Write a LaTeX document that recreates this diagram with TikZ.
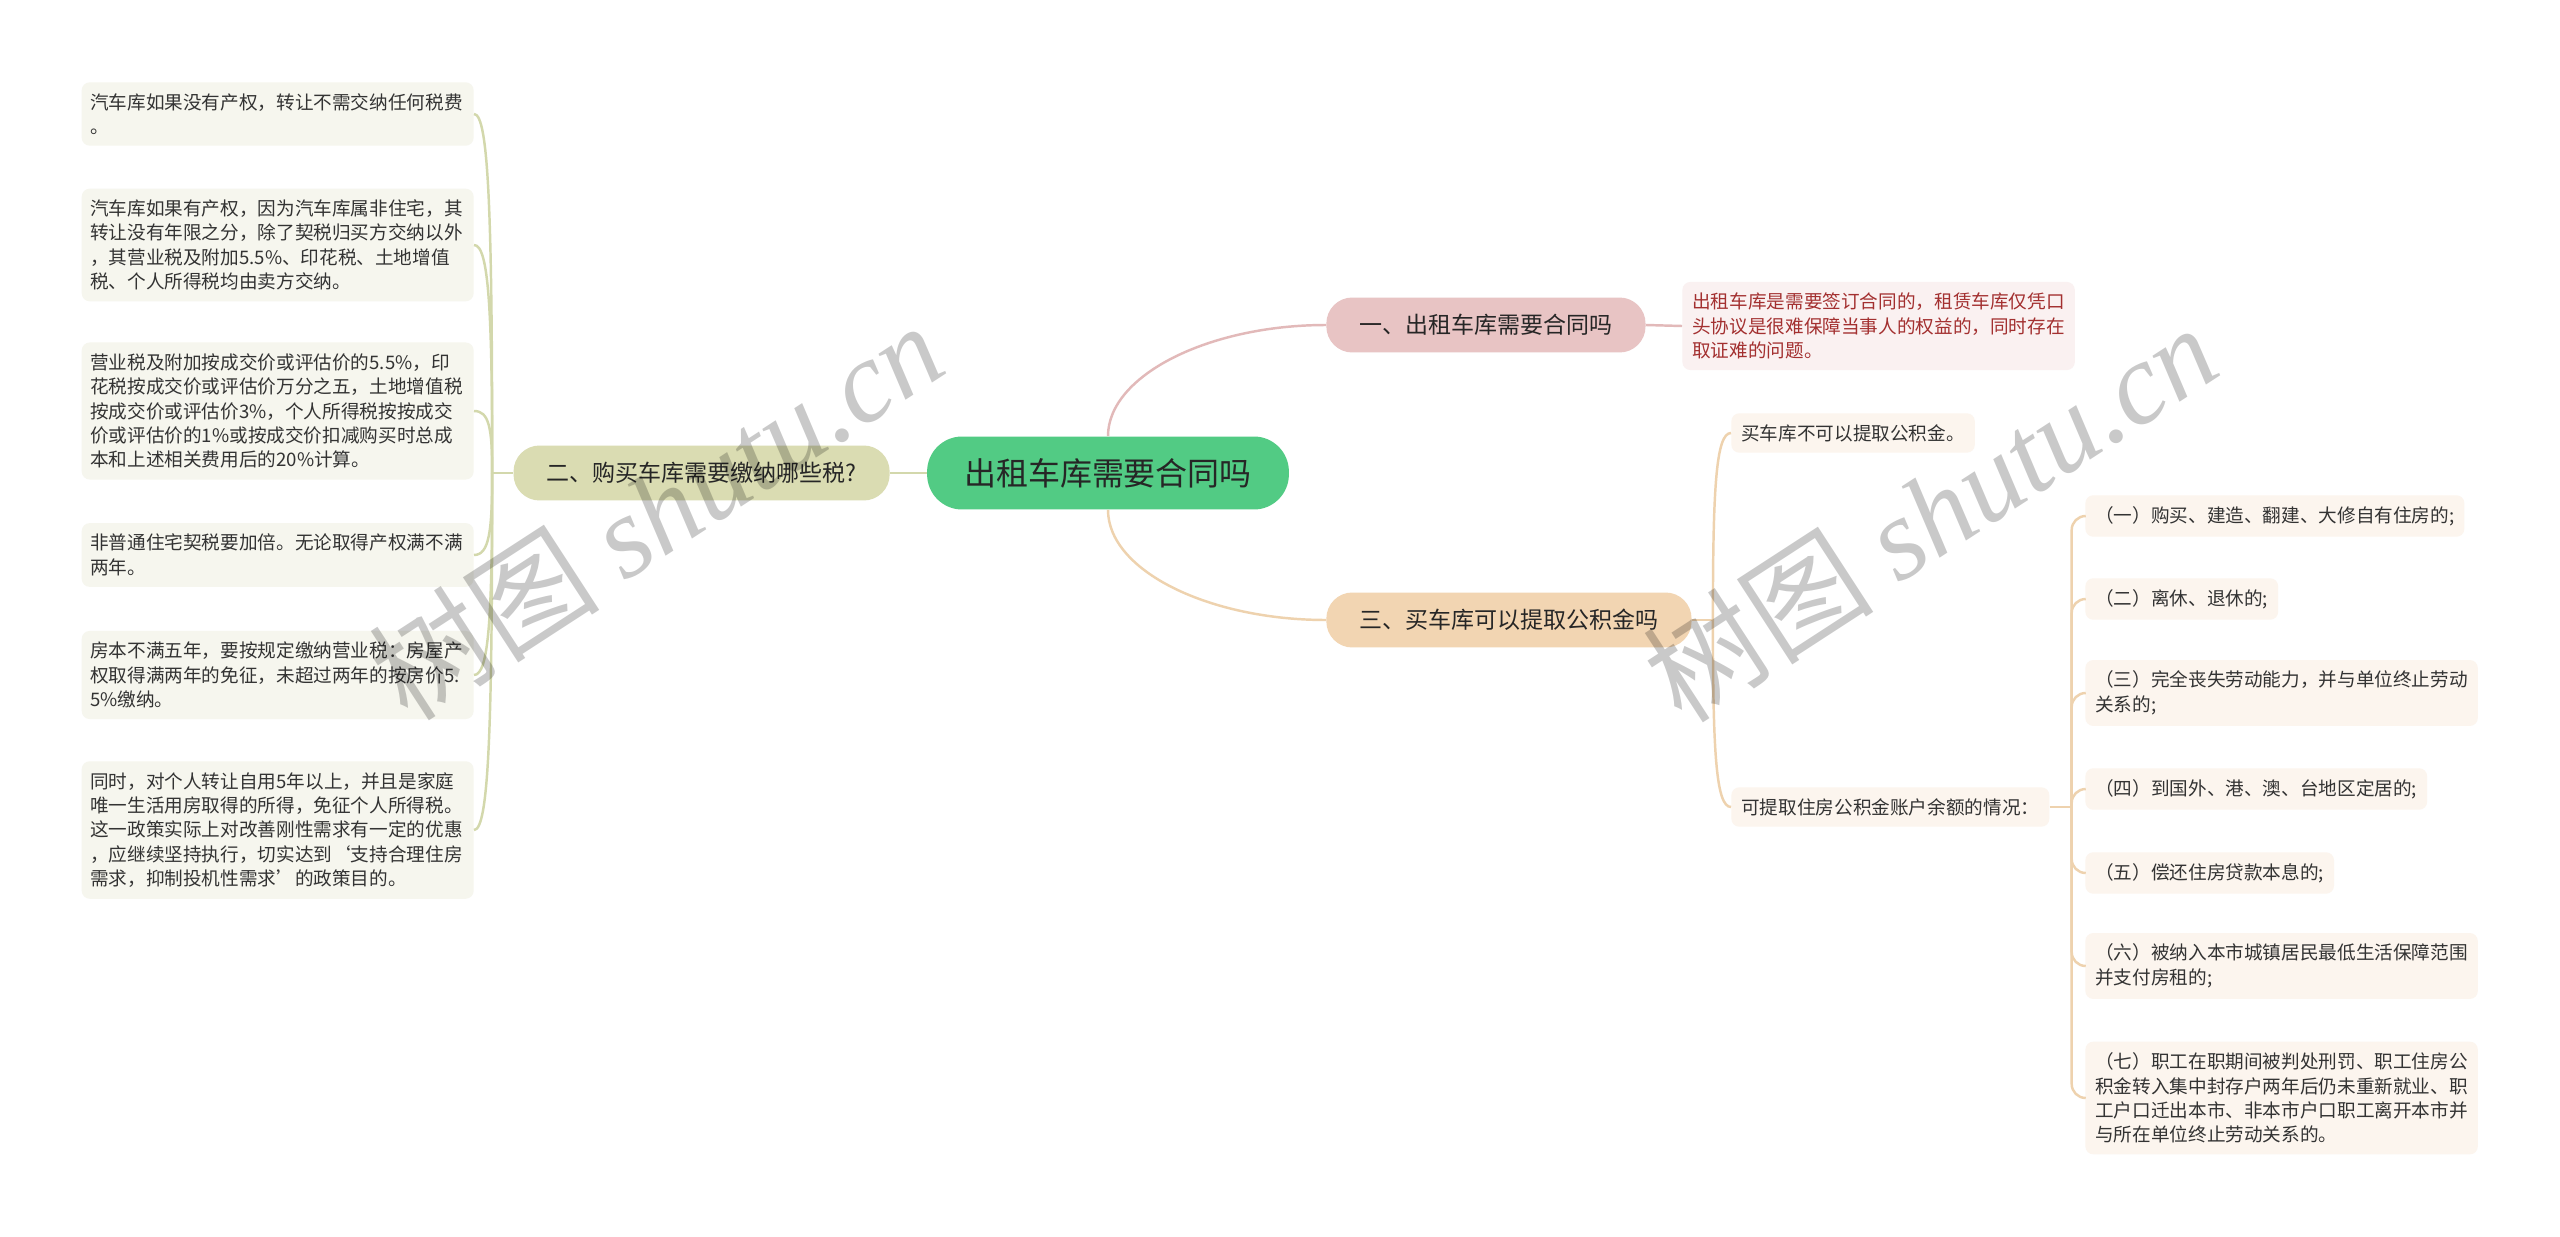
\documentclass[tikz,border=0pt]{standalone}
\usepackage{fontspec}
\setmainfont{Noto Sans CJK SC}
\newfontfamily\latinfilig{Liberation Serif}

\definecolor{couleurbackracn}{HTML}{52CB84}
\definecolor{couleurbackrose}{HTML}{E8C4C4}
\definecolor{couleurbackoliv}{HTML}{DADCB2}
\definecolor{couleurbackpech}{HTML}{F2D5B2}
\definecolor{couleurfeuiloliv}{HTML}{F6F6EE}
\definecolor{couleurfeuilrose}{HTML}{FAF1F1}
\definecolor{couleurfeuilpech}{HTML}{FCF5EE}
\definecolor{couleurlienrose}{HTML}{E2B9B9}
\definecolor{couleurlienoliv}{HTML}{D3D8AC}
\definecolor{couleurlienpech}{HTML}{EED2AE}
\definecolor{couleurtext}{HTML}{333333}
\definecolor{couleurtextrose}{HTML}{A33030}

\newcommand{\liengche}[3]{\draw[lienoliv] (#1) to[out=#3, in=0, out looseness=1.8, in distance=0.3cm] (#2.east);}
\newcommand{\liendrte}[3]{\draw[lienpech] (#1) to[out=#3, in=180, out looseness=1.8, in distance=0.3cm] (#2.west);}
\newcommand{\liencoud}[2]{\draw[lienpech, rounded corners=0.28cm] (#1) |- (#2.west);}

\tikzset{
		basic/.style={rounded corners=0.16cm, inner xsep=0.2cm, inner ysep=0.22cm, align=left, text=couleurtext, font=\fontsize{10.6}{13.9}\selectfont},
		racine/.style={basic, fill=couleurbackracn, rounded corners=0.7cm, inner xsep=0.74cm, minimum height=1.46cm, text=black!85, font=\fontsize{18.2}{22}\selectfont},
		branche/.style={basic, rounded corners=0.52cm, inner xsep=0.66cm, minimum height=1.1cm, text=black!85, font=\fontsize{13.1}{16}\selectfont},
		brarose/.style={branche, fill=couleurbackrose},
		braoliv/.style={branche, fill=couleurbackoliv},
		brapech/.style={branche, fill=couleurbackpech},
		feuiloliv/.style={basic, fill=couleurfeuiloliv, text width=7.5cm, inner xsep=0.17cm},
		feuilrose/.style={basic, fill=couleurfeuilrose, text=couleurtextrose},
		feuilpech/.style={basic, fill=couleurfeuilpech},
		lien/.style={line width=1.4pt},
		lienrose/.style={lien, draw=couleurlienrose},
		lienoliv/.style={lien, draw=couleurlienoliv},
		lienpech/.style={lien, draw=couleurlienpech},
		filigrane/.style={text=black, text opacity=0.21, inner sep=0pt, rotate=33, font=\fontsize{66}{70}\selectfont}
	}

\begin{document}
\begin{tikzpicture}[x=0.02cm, y=-0.02cm]
		\fill[white] (0,0) rectangle (2560,1237);
		\useasboundingbox (0,0) rectangle (2560,1237);
		% centre
		\node[racine] (racine) at (1108,473) {出租车库需要合同吗};
		% branches
		\node[brarose, anchor=west] (bracontr) at (1326,325) {一、出租车库需要合同吗};
		\node[braoliv, anchor=east] (bratxach) at (890,473) {二、购买车库需要缴纳哪些税?};
		\node[brapech, anchor=west] (brafonds) at (1326,620) {三、买车库可以提取公积金吗};
		% feuilles gauches
		\node[feuiloliv, anchor=east] (sansprop) at (474,114) {汽车库如果没有产权，转让不需交纳任何税费\\。};
		\node[feuiloliv, anchor=east] (avecprop) at (474,245) {汽车库如果有产权，因为汽车库属非住宅，其\\转让没有年限之分，除了契税归买方交纳以外\\，其营业税及附加5.5\%、印花税、土地增值\\税、个人所得税均由卖方交纳。};
		\node[feuiloliv, anchor=east] (calcutax) at (474,411) {营业税及附加按成交价或评估价的5.5\%，印\\花税按成交价或评估价万分之五，土地增值税\\按成交价或评估价3\%，个人所得税按按成交\\价或评估价的1\%或按成交价扣减购买时总成\\本和上述相关费用后的20\%计算。};
		\node[feuiloliv, anchor=east] (nonordin) at (474,555) {非普通住宅契税要加倍。无论取得产权满不满\\两年。};
		\node[feuiloliv, anchor=east] (moincinq) at (474,675) {房本不满五年，要按规定缴纳营业税：房屋产\\权取得满两年的免征，未超过两年的按房价5.\\5\%缴纳。};
		\node[feuiloliv, anchor=east] (exonerat) at (474,830) {同时，对个人转让自用5年以上，并且是家庭\\唯一生活用房取得的所得，免征个人所得税。\\这一政策实际上对改善刚性需求有一定的优惠\\，应继续坚持执行，切实达到‘支持合理住房\\需求，抑制投机性需求’的政策目的。};
		% feuilles droites
		\node[feuilrose, anchor=west] (repcontr) at (1682,326) {出租车库是需要签订合同的，租赁车库仅凭口\\头协议是很难保障当事人的权益的，同时存在\\取证难的问题。};
		\node[feuilpech, anchor=west] (nonfonds) at (1731,433) {买车库不可以提取公积金。};
		\node[feuilpech, anchor=west] (listecas) at (1731,807) {可提取住房公积金账户余额的情况：};
		% cas de retrait
		\node[feuilpech, anchor=west] (achatlog) at (2085,516) {（一）购买、建造、翻建、大修自有住房的;};
		\node[feuilpech, anchor=west] (retraite) at (2085,599) {（二）离休、退休的;};
		\node[feuilpech, anchor=west] (incapact) at (2085,693) {（三）完全丧失劳动能力，并与单位终止劳动\\关系的;};
		\node[feuilpech, anchor=west] (etranger) at (2085,789) {（四）到国外、港、澳、台地区定居的;};
		\node[feuilpech, anchor=west] (rembpret) at (2085,873) {（五）偿还住房贷款本息的;};
		\node[feuilpech, anchor=west] (minsocia) at (2085,966) {（六）被纳入本市城镇居民最低生活保障范围\\并支付房租的;};
		\node[feuilpech, anchor=west] (sanction) at (2085,1098) {（七）职工在职期间被判处刑罚、职工住房公\\积金转入集中封存户两年后仍未重新就业、职\\工户口迁出本市、非本市户口职工离开本市并\\与所在单位终止劳动关系的。};

		% Liens
		\draw[lienrose] (racine.north) .. controls +(0,-61) and +(-117,0) .. (bracontr.west);
		\draw[lienpech] (racine.south) .. controls +(0,61) and +(-117,0) .. (brafonds.west);
		\draw[lienoliv] (racine.west) -- (bratxach.east);
		\draw[lienrose] (bracontr.east) -- (repcontr.west);

		\coordinate (noeudtxa) at ([xshift=-0.42cm]bratxach.west);
		\coordinate (noeudfds) at ([xshift=0.42cm]brafonds.east);
		\coordinate (noeudcas) at ([xshift=0.44cm]listecas.east);
		\draw[lienoliv] (bratxach.west) -- (noeudtxa);
		\draw[lienpech] (brafonds.east) -- (noeudfds);
		\draw[lienpech] (listecas.east) -- (noeudcas);

		\liengche{noeudtxa}{sansprop}{90}
		\liengche{noeudtxa}{avecprop}{90}
		\liengche{noeudtxa}{calcutax}{90}
		\liengche{noeudtxa}{nonordin}{-90}
		\liengche{noeudtxa}{moincinq}{-90}
		\liengche{noeudtxa}{exonerat}{-90}

		\liendrte{noeudfds}{nonfonds}{90}
		\liendrte{noeudfds}{listecas}{-90}

		\liencoud{noeudcas}{achatlog}
		\liencoud{noeudcas}{retraite}
		\liencoud{noeudcas}{incapact}
		\liencoud{noeudcas}{etranger}
		\liencoud{noeudcas}{rembpret}
		\liencoud{noeudcas}{minsocia}
		\liencoud{noeudcas}{sanction}

		% filigranes
		\node[filigrane] (filiggch) at (656,510) {树图 {\latinfilig\itshape shutu.cn}};
		\node[filigrane] (filigdrt) at (1930,512) {树图 {\latinfilig\itshape shutu.cn}};
	\end{tikzpicture}
\end{document}
